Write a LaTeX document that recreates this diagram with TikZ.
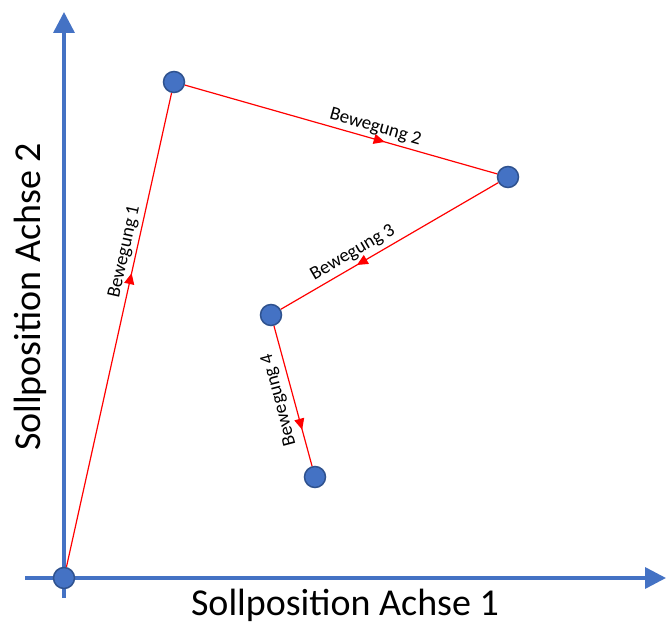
\documentclass[tikz,border=0pt]{standalone}
\usepackage{fontspec}
\setmainfont{Carlito}
\usetikzlibrary{arrows.meta,decorations.markings}
\definecolor{achsblau}{RGB}{68,114,196}
\definecolor{randblau}{RGB}{47,82,143}
\tikzset{
  punkt/.style={circle, fill=achsblau, draw=randblau, line width=1.5pt, minimum size=21pt, inner sep=0pt},
  achse/.style={achsblau, line width=3.5pt, -{Triangle[length=21pt,width=21pt]}},
  bewegung/.style={red, line width=1.2pt, postaction={decorate},
    decoration={markings, mark=at position #1 with {\arrow{Triangle[length=11pt,width=10pt]}}}},
  beschr/.style={text=black, font=\fontsize{19}{21}\selectfont, inner sep=3pt},
}
\begin{document}
\begin{tikzpicture}[x=1pt,y=1pt]
  \useasboundingbox (0,0) rectangle (666,626);

  \coordinate (xa) at (25,48);
  \coordinate (xe) at (666,48);
  \coordinate (ya) at (64,28);
  \coordinate (ye) at (64,614);
  \draw[achse] (xa) -- (xe); % x axis
  \draw[achse] (ya) -- (ye); % y axis

  \node[punkt] (p0) at (64,48)   {};
  \node[punkt] (p1) at (174,544) {};
  \node[punkt] (p2) at (508,449) {};
  \node[punkt] (p3) at (271,311) {};
  \node[punkt] (p4) at (315,149) {};

  \draw[bewegung=0.62] (p0) -- node[beschr, pos=0.66, sloped, above] {Bewegung 1} (p1);
  \draw[bewegung=0.64] (p1) -- node[beschr, pos=0.6, sloped, above] {Bewegung 2} (p2);
  \draw[bewegung=0.65] (p2) -- node[beschr, pos=0.64, sloped, above, inner sep=4pt] {Bewegung 3} (p3);
  \draw[bewegung=0.74] (p3) -- node[beschr, pos=0.5, rotate=105, anchor=south, inner sep=6pt] {Bewegung 4} (p4);

  \node[font=\fontsize{38}{40}\selectfont] (xl) at (345,21) {Sollposition Achse 1};
  \node[font=\fontsize{38}{40}\selectfont, rotate=90] (yl) at (30,329) {Sollposition Achse 2};
\end{tikzpicture}
\end{document}
